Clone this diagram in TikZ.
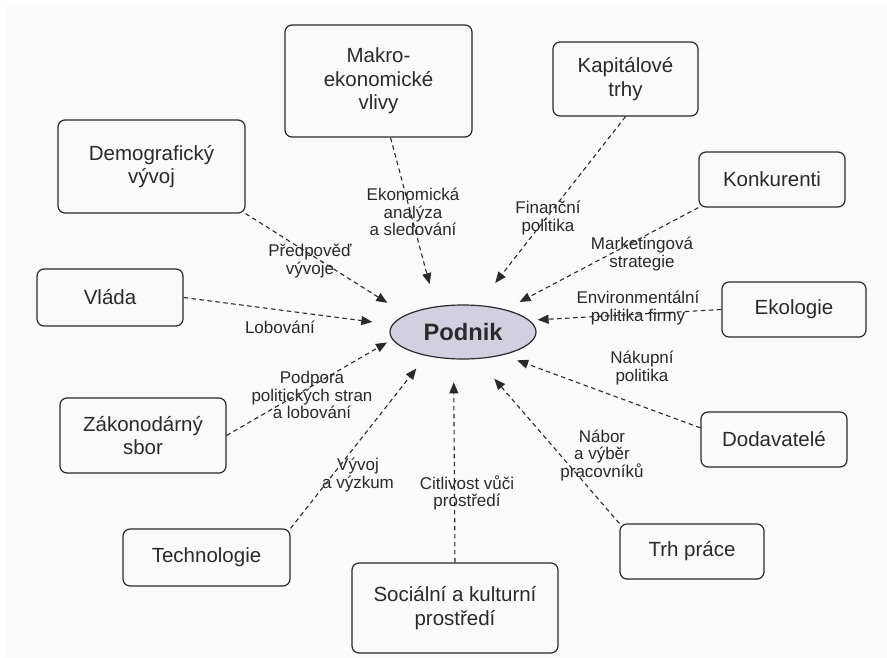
\documentclass[tikz,border=0pt]{standalone}
\usepackage{fontspec}
\setmainfont{Liberation Sans}
\usetikzlibrary{arrows.meta,shapes.geometric}
\definecolor{inkc}{HTML}{2A2A2A}
\definecolor{podfill}{HTML}{D2D0DE}
\begin{document}
\begin{tikzpicture}[x=1pt,y=-1pt,
  boxnode/.style={draw=inkc, line width=1.2pt, rounded corners=7pt, align=center,
    text=inkc, inner sep=0pt, font=\fontsize{20.5}{23.5}\selectfont},
  lbl/.style={align=center, text=inkc, inner sep=0pt, font=\fontsize{17}{17.5}\selectfont},
  conn/.style={draw=inkc, line width=1.1pt, dash pattern=on 4.5pt off 3.5pt,
    -{Triangle[length=11pt,width=9pt]}}
]
% page
\fill[white] (0,0) rectangle (887,657);
\fill[black!2] (6,7) rectangle (887,657);
\useasboundingbox (0,0) rectangle (887,657);

% centre
\node[ellipse, draw=inkc, line width=1.2pt, fill=podfill, minimum width=146pt, minimum height=54pt,
  inner sep=0pt, text=inkc, font=\fontsize{23.7}{26}\selectfont\bfseries] (pod) at (463,332) {Podnik};

% surrounding influences
\node[boxnode, minimum width=187pt, minimum height=112pt] (mak) at (378.5,81) {Makro-\\ekonomické\\vlivy};
\node[boxnode, minimum width=145pt, minimum height=74pt] (kap) at (625.5,79) {Kapitálové\\trhy};
\node[boxnode, minimum width=187pt, minimum height=93pt] (dem) at (151.5,166.5) {Demografický\\vývoj};
\node[boxnode, minimum width=146pt, minimum height=57pt] (vla) at (110,297.5) {Vláda};
\node[boxnode, minimum width=166pt, minimum height=75pt] (zak) at (143,435.5) {Zákonodárný\\sbor};
\node[boxnode, minimum width=167pt, minimum height=57pt] (tec) at (206.5,557.5) {Technologie};
\node[boxnode, minimum width=206pt, minimum height=90pt] (soc) at (455,608) {Sociální a kulturní\\prostředí};
\node[boxnode, minimum width=144pt, minimum height=55pt] (trh) at (692,551.5) {Trh práce};
\node[boxnode, minimum width=146pt, minimum height=55pt] (dod) at (774,439.5) {Dodavatelé};
\node[boxnode, minimum width=144pt, minimum height=55pt] (eko) at (794,309.5) {Ekologie};
\node[boxnode, minimum width=146pt, minimum height=55pt] (kon) at (772,179.5) {Konkurenti};

% connectors
\draw[conn, shorten >=23pt] (mak.-78) -- (pod.137);
\draw[conn, shorten >=28pt] (kap.south) -- (pod.61.5);
\draw[conn, shorten >=22pt] (dem.south east) -- (pod.163);
\draw[conn, shorten >=20pt] (vla.east) -- (pod.174);
\draw[conn, shorten >=6pt] (zak.east) -- (pod.186.5);
\draw[conn, shorten >=16pt] (tec.north east) -- (pod.213);
\draw[conn, shorten >=23pt] (soc.north) -- (pod.251.4);
\draw[conn, shorten >=26pt] (trh.north west) -- (pod.298.7);
\draw[conn, shorten >=15pt] (dod.171) -- (pod.330);
\draw[conn, shorten >=8pt] (eko.west) -- (pod.10);
\draw[conn, shorten >=16pt] (kon.south west) -- (pod.28.9);

% connector labels
\node[lbl] (lmak) at (413,212) {Ekonomická\\analýza\\a sledování};
\node[lbl] (lkap) at (548,218) {Finanční\\politika};
\node[lbl] (ldem) at (310,261) {Předpověď\\vývoje};
\node[lbl] (lvla) at (280,327) {Lobování};
\node[lbl] (lzak) at (312,395) {Podpora\\politických stran\\a lobování};
\node[lbl] (ltec) at (358,475) {Vývoj\\a výzkum};
\node[lbl] (lsoc) at (467,493) {Citlivost vůči\\prostředí};
\node[lbl] (ltrh) at (602,455) {Nábor\\a výběr\\pracovníků};
\node[lbl] (ldod) at (642,368) {Nákupní\\politika};
\node[lbl] (leko) at (638,308) {Environmentální\\politika firmy};
\node[lbl] (lkon) at (642,254) {Marketingová\\strategie};
\end{tikzpicture}
\end{document}
